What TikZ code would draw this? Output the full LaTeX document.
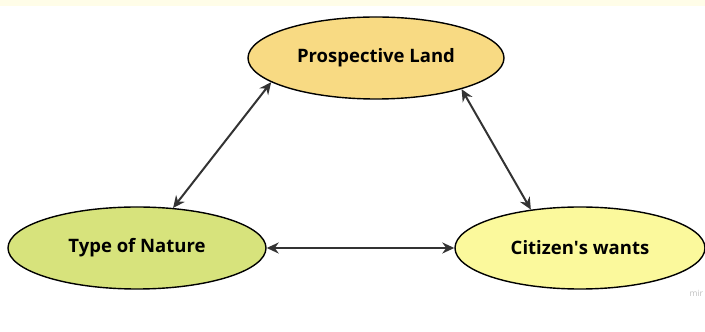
\documentclass[tikz,border=0pt]{standalone}
\usepackage{fontspec}
\setmainfont{Open Sans}
\usetikzlibrary{shapes.geometric,arrows.meta}
\definecolor{landfill}{HTML}{F8DA83}
\definecolor{naturefill}{HTML}{D7E37C}
\definecolor{wantsfill}{HTML}{FBF99C}
\definecolor{stripfill}{HTML}{FFFDE8}
\definecolor{linkgray}{HTML}{333333}
\begin{document}
\begin{tikzpicture}[x=1pt,y=1pt,
  bubble/.style={ellipse, draw=black, line width=1.4pt, minimum width=256pt,
    minimum height=82pt, inner sep=0pt, font=\fontsize{18.5}{22}\selectfont\bfseries},
  link/.style={{Stealth[length=12pt,width=11pt]}-{Stealth[length=12pt,width=11pt]},
    draw=linkgray, line width=2pt}]
\useasboundingbox (0,0) rectangle (705,332);
\fill[stripfill] (0,326) rectangle (705,332);

\node[bubble, fill=landfill] (land) at (376,274) {Prospective Land};
\node[bubble, fill=naturefill, minimum width=258pt] (nature) at (137,84) {Type of Nature};
\begin{scope}
\clip (0,0) rectangle (705,332);
\node[bubble, fill=wantsfill, minimum width=250pt] (wants) at (580,84) {Citizen\textquotesingle s wants};
\end{scope}

\draw[link] (land.193) -- (nature.48);
\draw[link] (land.340) -- (wants.142);
\draw[link] (nature.east) -- (wants.west);

\node[text=gray!50, font=\fontsize{8.5}{9}\selectfont, anchor=west] (mark) at (686,39) {mir};
\end{tikzpicture}
\end{document}
